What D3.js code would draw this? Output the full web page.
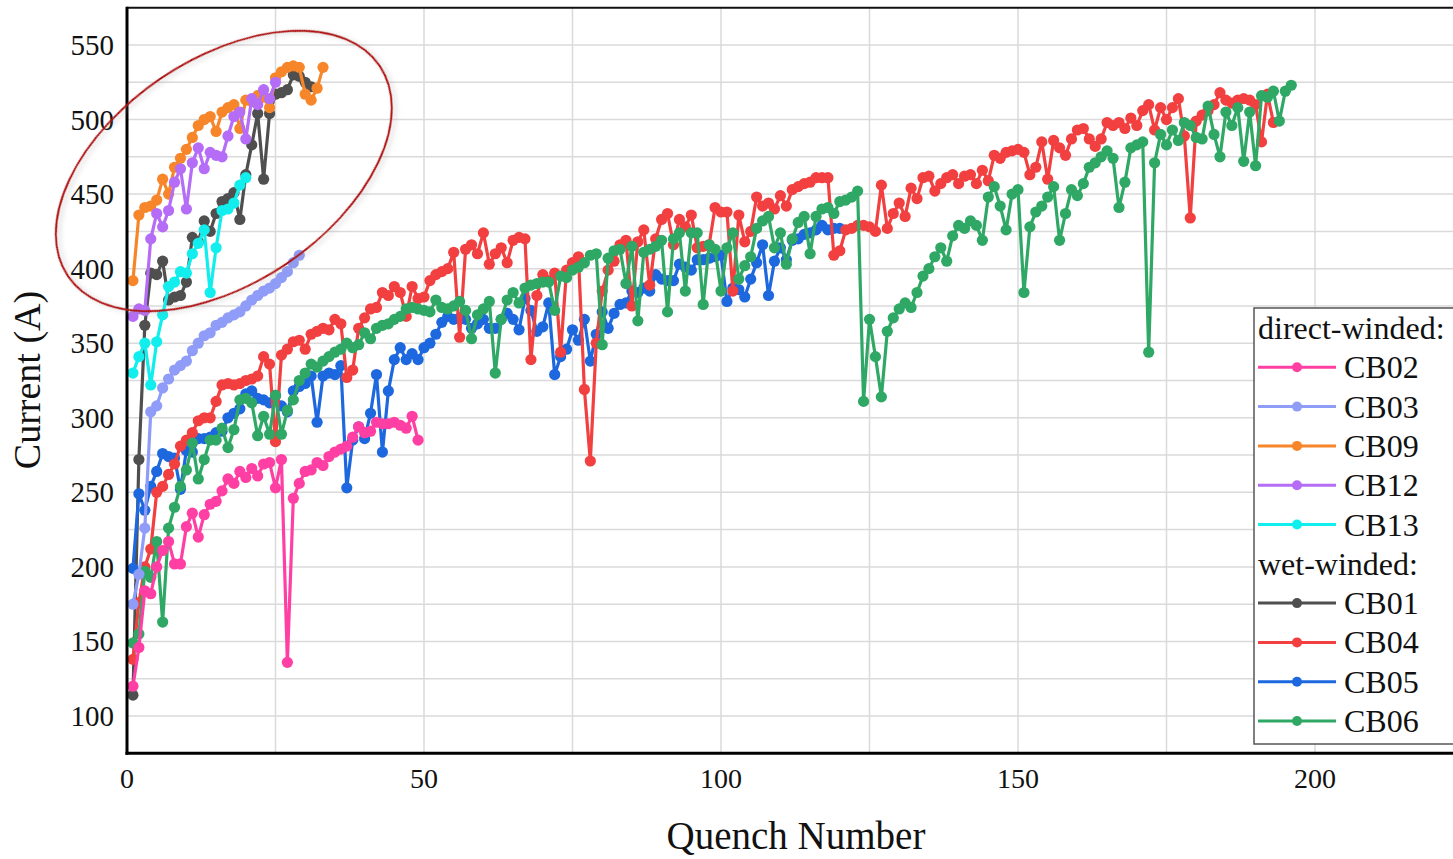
<!DOCTYPE html>
<html>
<head>
<meta charset="utf-8">
<script src="https://cdn.jsdelivr.net/npm/d3@7"></script>
<style>
  body { margin: 0; background: #fff; overflow: hidden; }
  svg { display: block; font-family: "Liberation Serif", "Times New Roman", serif; }
</style>
</head>
<body>
<svg width="1453" height="859"></svg>
<script>
// quench current (A) per quench, quench number = index + 1
// direct-winded coils
const cb02 = [120,146,184,182,200,211,217,202,202,227,236,220,235,242,244,251,259,256,264,260,
  266,261,269,270,253,272,136,246,256,264,265,270,268,274,277,279,281,287,294,290,
  291,297,296,296,297,295,293,301,285];
const cb03 = [175,195,226,304,308,320,326,332,335,338,345,350,355,357,362,364,367,369,371,375,
  379,382,385,387,390,394,398,404,409];
const cb09 = [392,436,441,442,446,460,450,468,474,480,488,496,500,502,492,505,508,510,494,513,
  512,516,515,508,528,532,535,536,535,517,513,521,535];
const cb12 = [368,373,372,420,437,428,439,458,467,440,471,481,467,478,476,475,489,502,505,487,
  514,510,520,514,525];
const cb13 = [330,341,350,322,351,369,388,391,398,397,410,417,426,384,414,439,440,444,456,461];

// wet-winded coils
const cb01 = [114,272,362,397,396,405,379,381,382,391,421,418,432,425,437,445,447,451,433,463,
  483,504,460,504,517,518,520,530,529,525,522];
const cb04 = [138,176,200,212,250,254,262,269,281,285,290,298,300,300,311,322,323,322,323,325,
  326,328,341,336,284,342,346,351,352,346,356,358,360,359,366,363,327,332,360,367,
  373,374,384,382,388,384,368,388,380,381,392,396,398,400,411,354,413,416,410,424,
  403,410,414,404,419,421,420,339,382,396,392,397,344,399,404,408,319,271,350,385,
  399,405,416,419,375,418,426,389,420,433,437,416,433,428,436,414,415,416,441,438,
  438,385,436,418,425,448,442,444,440,449,442,453,455,457,458,461,461,461,409,412,
  426,427,429,429,428,425,456,427,437,444,435,454,447,461,462,452,457,461,463,457,
  462,463,457,466,459,476,474,478,479,480,478,463,468,485,460,486,481,476,487,493,
  494,487,482,487,498,496,498,494,501,496,506,510,493,508,500,508,514,489,434,499,
  503,506,510,518,513,511,513,514,513,510,485,517,498];
const cb05 = [199,249,238,254,264,276,274,273,252,278,277,286,286,287,290,291,300,303,306,316,
  318,313,312,310,315,308,304,318,321,323,328,297,328,330,329,335,253,285,294,286,
  303,329,277,318,339,347,339,343,339,347,350,356,364,368,366,367,366,360,363,366,
  360,360,366,370,366,359,380,372,358,361,377,329,341,346,359,352,366,338,356,371,
  360,370,376,377,385,384,387,385,396,393,392,392,403,401,399,406,406,407,408,409,
  378,387,386,381,393,404,416,382,405,414,406,419,420,423,424,426,429,426,427,427];
const cb06 = [149,155,197,193,217,163,226,240,254,265,283,259,272,285,285,293,280,292,312,313,
  310,288,301,289,315,289,305,312,325,330,336,334,338,341,344,346,350,347,349,357,
  353,360,362,363,366,368,373,374,373,372,371,379,374,373,375,378,372,353,369,373,
  378,330,366,379,384,377,387,389,390,391,391,372,395,394,399,401,404,409,410,349,
  407,412,413,390,415,365,411,413,415,419,371,420,424,385,424,424,376,416,413,385,
  414,424,393,402,408,427,432,435,414,424,403,420,431,435,410,435,440,441,437,445,
  446,448,452,311,366,341,314,358,367,373,377,374,384,395,400,408,414,405,422,429,
  427,432,429,419,448,455,442,426,450,453,384,428,438,442,448,455,419,437,453,449,
  457,468,471,475,479,474,441,458,481,483,485,344,471,490,483,493,486,498,496,488,
  487,509,490,475,505,496,508,472,505,469,516,515,519,499,519,523];

const directNames = ["CB02", "CB03", "CB09", "CB12", "CB13"];
const directColors = ["#ff3fa3", "#8f9cf8", "#f7862a", "#b56cf6", "#12eeee"];
const wetNames = ["CB01", "CB04", "CB05", "CB06"];
const wetColors = ["#4f4f4f", "#f23f3f", "#1d68de", "#2fa865"];

const xTicks = [0, 50, 100, 150, 200];
const yTicks = [100, 150, 200, 250, 300, 350, 400, 450, 500, 550];

const valuesByName = {
  CB02: cb02, CB03: cb03, CB09: cb09, CB12: cb12, CB13: cb13,
  CB01: cb01, CB04: cb04, CB05: cb05, CB06: cb06
};
const colorByName = {};
directNames.forEach((n, i) => colorByName[n] = directColors[i]);
wetNames.forEach((n, i) => colorByName[n] = wetColors[i]);

// drawing order (later ones on top)
const drawOrder = ["CB01", "CB05", "CB04", "CB06", "CB02", "CB03", "CB09", "CB12", "CB13"];

const svg = d3.select("svg");
const x = d3.scaleLinear().domain([0, 225]).range([127, 1463.5]);
const y = d3.scaleLinear().domain([75, 575]).range([753.3, 7.7]);

svg.append("defs").append("clipPath").attr("id", "plot")
  .append("rect")
  .attr("x", x(0)).attr("y", y(575))
  .attr("width", x(225) - x(0)).attr("height", y(75) - y(575));

// grid
const grid = svg.append("g").attr("stroke", "#dadada").attr("stroke-width", 1.5);
grid.selectAll(".gx").data(d3.range(25, 226, 25)).join("line")
  .attr("x1", d => x(d)).attr("x2", d => x(d))
  .attr("y1", y(75)).attr("y2", y(575));
grid.selectAll(".gy").data(d3.range(100, 575, 25)).join("line")
  .attr("x1", x(0)).attr("x2", x(225))
  .attr("y1", d => y(d)).attr("y2", d => y(d));

// series
const plot = svg.append("g").attr("clip-path", "url(#plot)");
const line = d3.line().x((d, i) => x(i + 1)).y(d => y(d));

drawOrder.forEach(name => {
  const vals = valuesByName[name];
  const g = plot.append("g");
  g.append("path").datum(vals)
    .attr("d", line)
    .attr("fill", "none")
    .attr("stroke", colorByName[name])
    .attr("stroke-width", 3.2)
    .attr("stroke-linejoin", "round");
  g.selectAll("circle").data(vals).join("circle")
    .attr("cx", (d, i) => x(i + 1))
    .attr("cy", d => y(d))
    .attr("r", 5.6)
    .attr("fill", colorByName[name]);
});

// frame: top border, thick left and bottom axes
svg.append("line").attr("x1", x(0)).attr("x2", 1453).attr("y1", y(575)).attr("y2", y(575))
  .attr("stroke", "#111").attr("stroke-width", 2);
svg.append("line").attr("x1", x(0)).attr("x2", x(0)).attr("y1", y(575) - 1).attr("y2", y(75) + 1.5)
  .attr("stroke", "#000").attr("stroke-width", 3);
svg.append("line").attr("x1", x(0) - 1.5).attr("x2", 1453).attr("y1", y(75)).attr("y2", y(75))
  .attr("stroke", "#000").attr("stroke-width", 3);

// tick labels
svg.append("g").selectAll("text").data(yTicks).join("text")
  .attr("x", 114).attr("y", d => y(d) + 10)
  .attr("text-anchor", "end")
  .attr("font-size", 29)
  .attr("fill", "#111")
  .text(d => d);
svg.append("g").selectAll("text").data(xTicks).join("text")
  .attr("x", d => x(d)).attr("y", 788)
  .attr("text-anchor", "middle")
  .attr("font-size", 28)
  .attr("fill", "#111")
  .text(d => d);

// axis titles
svg.append("text")
  .attr("transform", "translate(40,380) rotate(-90)")
  .attr("text-anchor", "middle")
  .attr("font-size", 38)
  .attr("fill", "#111")
  .text("Current (A)");
svg.append("text")
  .attr("x", 796).attr("y", 849)
  .attr("text-anchor", "middle")
  .attr("font-size", 39)
  .attr("fill", "#111")
  .text("Quench Number");

// highlight ellipse around the direct-winded group
const shadow = svg.select("defs").append("filter").attr("id", "shadow")
  .attr("x", "-20%").attr("y", "-20%").attr("width", "140%").attr("height", "140%");
shadow.append("feDropShadow").attr("dx", 2).attr("dy", 3).attr("stdDeviation", 2.5)
  .attr("flood-color", "#999").attr("flood-opacity", 0.45);
svg.append("ellipse")
  .attr("transform", `translate(${x(16.3)},${y(465.5)}) rotate(-34)`)
  .attr("rx", 188).attr("ry", 112)
  .attr("fill", "none")
  .attr("stroke", "#b00d0d")
  .attr("stroke-width", 2)
  .attr("filter", "url(#shadow)");

// legend
const legend = svg.append("g");
legend.append("rect")
  .attr("x", 1254).attr("y", 308).attr("width", 230).attr("height", 436)
  .attr("fill", "#fff").attr("stroke", "#555").attr("stroke-width", 1.5);

const rows = [{ header: "direct-winded:" }]
  .concat(directNames.map(n => ({ name: n })))
  .concat([{ header: "wet-winded:" }])
  .concat(wetNames.map(n => ({ name: n })));

rows.forEach((r, i) => {
  const cy = 328 + i * 39.3;
  if (r.header) {
    legend.append("text").attr("x", 1258).attr("y", cy + 11)
      .attr("font-size", 32).attr("fill", "#111").text(r.header);
  } else {
    legend.append("line").attr("x1", 1258).attr("x2", 1336).attr("y1", cy).attr("y2", cy)
      .attr("stroke", colorByName[r.name]).attr("stroke-width", 3);
    legend.append("circle").attr("cx", 1297).attr("cy", cy).attr("r", 5)
      .attr("fill", colorByName[r.name]);
    legend.append("text").attr("x", 1344).attr("y", cy + 11)
      .attr("font-size", 32).attr("fill", "#111").text(r.name);
  }
});
</script>
</body>
</html>
